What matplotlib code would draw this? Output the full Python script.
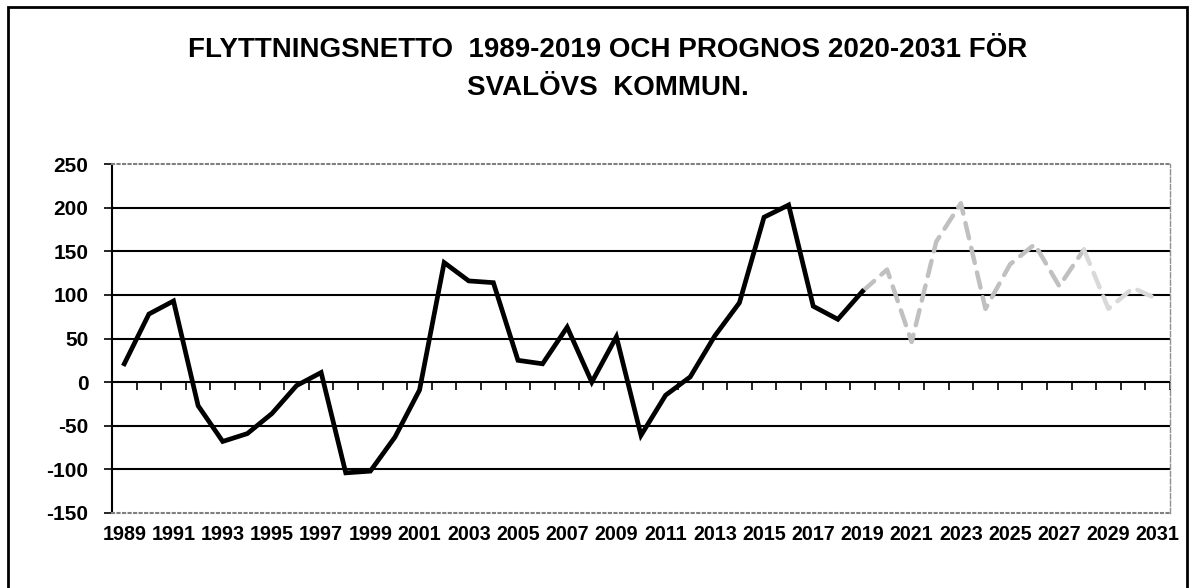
import matplotlib.pyplot as plt
from matplotlib.patches import Rectangle

# historic net migration 1989-2019
hist_years = list(range(1989, 2020))
hist_values = [21, 78, 93, -27, -68, -59, -36, -4, 11, -104,
               -102, -63, -9, 137, 116, 114, 25, 21, 63, 0,
               52, -61, -15, 6, 53, 91, 189, 203, 87, 72, 104]

# forecast 2019-2031 (starts at last observed point)
prog_years = list(range(2019, 2032))
prog_values = [104, 129, 46, 161, 205, 84, 135, 158, 110, 152, 84, 108, 95]

all_years = list(range(1989, 2032))
y_ticks = [-150, -100, -50, 0, 50, 100, 150, 200, 250]

plt.rcParams['font.family'] = ['Liberation Sans', 'DejaVu Sans']
plt.rcParams['font.weight'] = 'bold'

fig = plt.figure(figsize=(11.92, 5.88), dpi=100)
W, H = 1192, 588
ax = fig.add_axes([112 / W, 1 - 513 / H, (1170 - 112) / W, (513 - 164) / H])

idx = {y: i for i, y in enumerate(all_years)}
hx = [idx[y] for y in hist_years]
px = [idx[y] for y in prog_years]

# forecast, two shades of grey
ax.plot(px[:10], prog_values[:10], color='#c0c0c0', lw=3.2,
        dashes=(3.5, 2.2), dash_capstyle='round', zorder=3)
ax.plot(px[9:], prog_values[9:], color='#d9d9d9', lw=3.2,
        dashes=(3.5, 2.2), dash_capstyle='round', zorder=3)
ax.plot(hx, hist_values, color='black', lw=3.4, solid_joinstyle='miter', zorder=4)

ax.set_xlim(-0.5, len(all_years) - 0.5)
ax.set_ylim(-150, 250)

# grid lines
for v in y_ticks[1:-1]:
    ax.axhline(v, color='black', lw=1.5, zorder=1)

ax.set_yticks(y_ticks)
ax.set_yticklabels([str(v) for v in y_ticks], fontsize=15, fontweight='bold')
ax.tick_params(axis='y', direction='out', length=6, width=1.2, pad=11)

ax.spines['left'].set_linewidth(1.5)
ax.spines['top'].set_color('#808080')
ax.spines['top'].set_linestyle(':')
ax.spines['top'].set_linewidth(1.5)
ax.spines['bottom'].set_color('#808080')
ax.spines['bottom'].set_linestyle(':')
ax.spines['bottom'].set_linewidth(1.5)
ax.spines['right'].set_color('#909090')
ax.spines['right'].set_linestyle('--')
ax.spines['right'].set_linewidth(1.0)

# year labels at bottom, every other year
ax.set_xticks(range(0, len(all_years), 2))
ax.set_xticklabels([str(y) for y in all_years[::2]], fontsize=14.2, fontweight='bold')
ax.tick_params(axis='x', length=0, pad=9)

# tick marks on the zero line between categories
sec = ax.secondary_xaxis(150 / 400)
sec.set_xticks([i - 0.5 for i in range(len(all_years) + 1)])
sec.set_xticklabels([])
sec.tick_params(axis='x', direction='out', length=6, width=1.2)
sec.spines['bottom'].set_visible(False)

fig.text(608 / W, 1 - 50 / H, 'FLYTTNINGSNETTO  1989-2019 OCH PROGNOS 2020-2031 FÖR',
         ha='center', va='center', fontsize=20, fontweight='bold')
fig.text(608 / W, 1 - 88 / H, 'SVALÖVS  KOMMUN.',
         ha='center', va='center', fontsize=20, fontweight='bold')

# outer chart border
fig.patches.append(Rectangle((8 / W, -0.05), (1187 - 8) / W, 1.05 - 7 / H,
                             transform=fig.transFigure, fill=False,
                             edgecolor='black', lw=2))

fig.savefig('out.png', dpi=100)
